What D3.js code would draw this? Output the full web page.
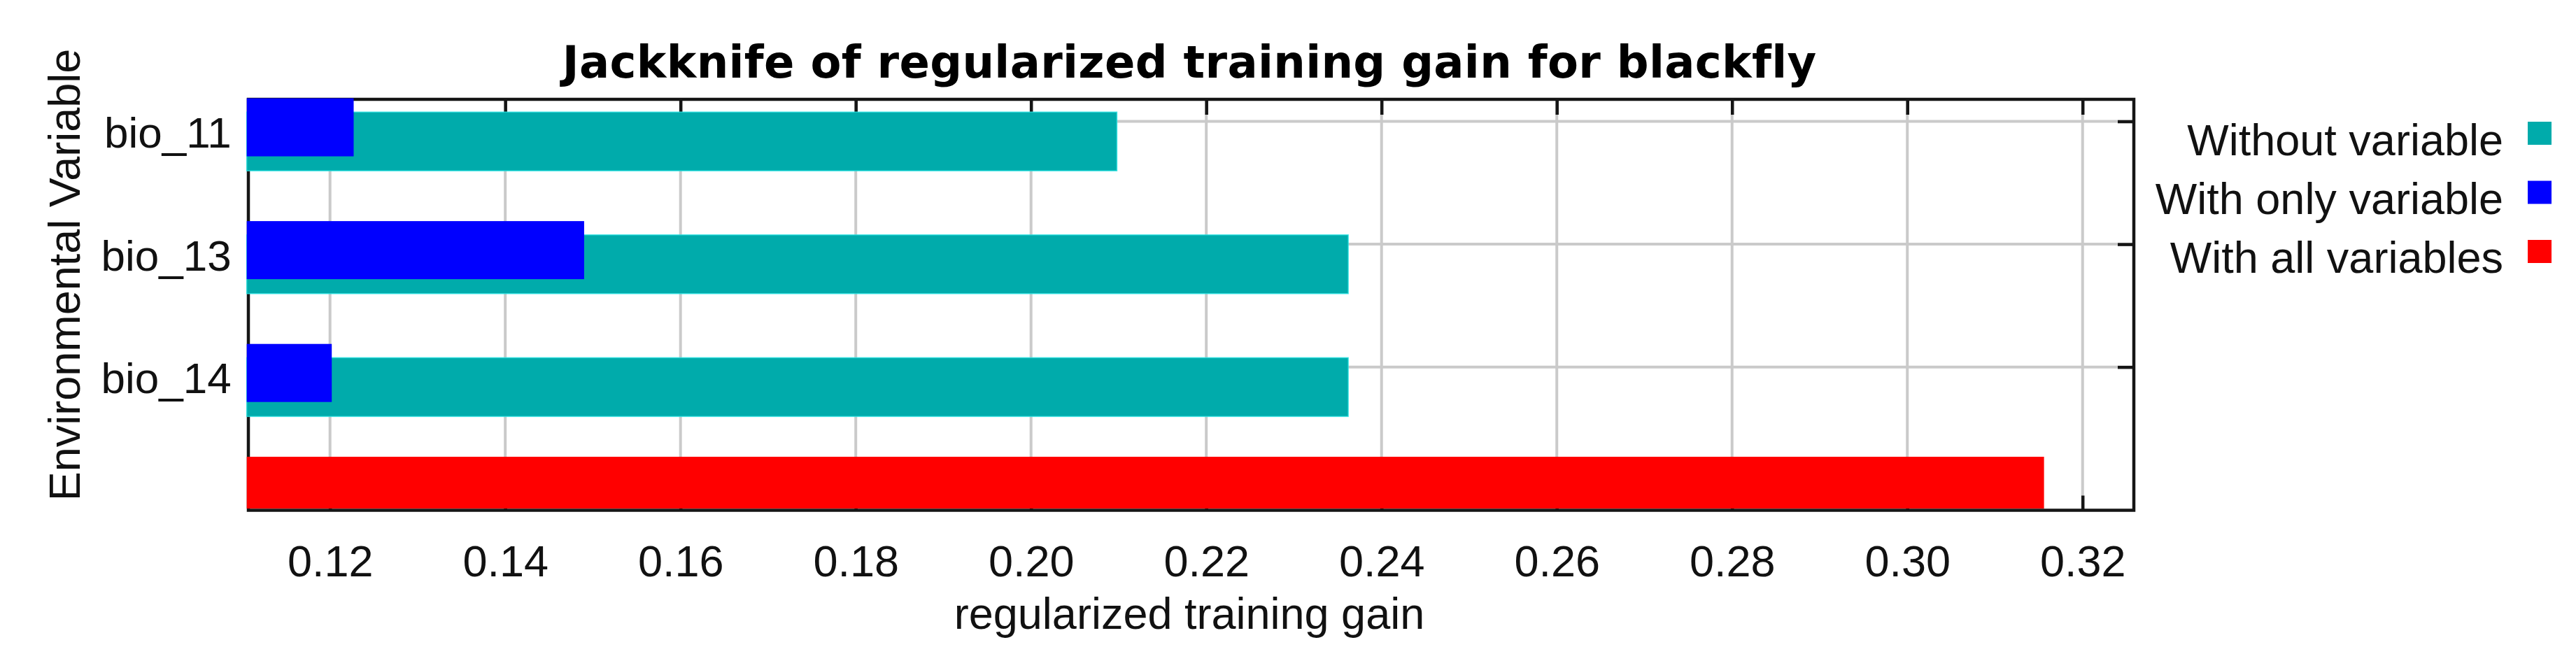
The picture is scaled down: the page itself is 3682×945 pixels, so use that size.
<!DOCTYPE html>
<html><head><meta charset="utf-8">
<script src="https://cdn.jsdelivr.net/npm/d3@7"></script>
<style>
html,body{margin:0;padding:0;background:#fff;}
svg{display:block;font-family:"Liberation Sans",Arial,sans-serif;}
</style></head><body>
<svg id="chart" width="3682" height="945"></svg>
<script>
// ---- data ----
const variables = ["bio_11", "bio_13", "bio_14"];
const withoutVariable = [0.2098, 0.2362, 0.2362];
const withOnlyVariable = [0.1227, 0.1490, 0.1202];
const withAllVariables = 0.3156;
const xTickValues = [0.12, 0.14, 0.16, 0.18, 0.20, 0.22, 0.24, 0.26, 0.28, 0.30, 0.32];
const xDomain = [0.1105, 0.32585];
const legendLabels = ["Without variable", "With only variable", "With all variables"];
const legendColors = ["#00abab", "#0000ff", "#ff0000"];
const titleText = "Jackknife of regularized training gain for blackfly";
const xTitleText = "regularized training gain";
const yTitleText = "Environmental Variable";

// ---- layout ----
const plot = {left: 352.7, right: 3050, top: 142, bottom: 729.5};
const svg = d3.select("#chart");
svg.append("rect").attr("width", 3682).attr("height", 945).attr("fill", "#fff");

const x = d3.scaleLinear().domain(xDomain).range([plot.left, plot.right]);
const rows = [...variables, "all"];
const y = d3.scalePoint().domain(rows).range([173.5, 700.3]);

const gridColor = "#cacaca";
const frameColor = "#151515";

// gridlines
const grid = svg.append("g");
grid.selectAll("line.v").data(xTickValues).join("line")
  .attr("class", "v")
  .attr("x1", d => x(d)).attr("x2", d => x(d))
  .attr("y1", plot.top).attr("y2", plot.bottom)
  .attr("stroke", gridColor).attr("stroke-width", 4);
grid.selectAll("line.h").data(variables).join("line")
  .attr("class", "h")
  .attr("x1", plot.left).attr("x2", plot.right)
  .attr("y1", d => y(d)).attr("y2", d => y(d))
  .attr("stroke", gridColor).attr("stroke-width", 4);

// frame
svg.append("rect")
  .attr("x", 355).attr("y", plot.top)
  .attr("width", plot.right - 355).attr("height", plot.bottom - plot.top)
  .attr("fill", "none").attr("stroke", frameColor).attr("stroke-width", 4.5);

function styleAxis(g) {
  g.select(".domain").remove();
  g.selectAll(".tick line").attr("stroke", frameColor).attr("stroke-width", 4.5);
}

// top ticks (inward)
svg.append("g").attr("transform", `translate(0,${plot.top})`)
  .call(d3.axisTop(x).tickValues(xTickValues).tickSize(-22).tickSizeOuter(0).tickFormat(""))
  .call(styleAxis);

// bottom axis with labels
const bx = svg.append("g").attr("transform", `translate(0,${plot.bottom})`)
  .call(d3.axisBottom(x).tickValues(xTickValues).tickSize(-21).tickSizeOuter(0)
        .tickPadding(50).tickFormat(d3.format(".2f")))
  .call(styleAxis);
bx.selectAll("text").attr("font-size", 63).attr("fill", "#111")
  .attr("font-family", '"Liberation Sans", Arial, sans-serif');

// right ticks
svg.append("g").attr("transform", `translate(${plot.right},0)`)
  .call(d3.axisRight(y).tickValues(variables).tickSize(-23).tickSizeOuter(0).tickFormat(""))
  .call(styleAxis);

// left labels
const ly = svg.append("g").attr("transform", `translate(${plot.left},0)`)
  .call(d3.axisLeft(y).tickValues(variables).tickSize(0).tickPadding(22))
  .call(styleAxis);
ly.selectAll("text").attr("font-size", 62).attr("fill", "#111").attr("dy", "0.6em")
  .attr("font-family", '"Liberation Sans", Arial, sans-serif');

// bars
const bars = svg.append("g");
bars.selectAll("rect.without").data(variables).join("rect")
  .attr("class", "without")
  .attr("x", x(xDomain[0]))
  .attr("y", d => y(d) - 13.3)
  .attr("width", (d, i) => x(withoutVariable[i]) - x(xDomain[0]))
  .attr("height", 84)
  .attr("fill", legendColors[0])
  .attr("stroke", "rgba(40,225,225,0.8)").attr("stroke-width", 1.5);
bars.selectAll("rect.only").data(variables).join("rect")
  .attr("class", "only")
  .attr("x", x(xDomain[0]))
  .attr("y", d => y(d) - 33)
  .attr("width", (d, i) => x(withOnlyVariable[i]) - x(xDomain[0]))
  .attr("height", 83)
  .attr("fill", legendColors[1]);
bars.append("rect")
  .attr("x", x(xDomain[0]))
  .attr("y", y("all") - 47.3)
  .attr("width", x(withAllVariables) - x(xDomain[0]))
  .attr("height", 727 - (y("all") - 47.3))
  .attr("fill", legendColors[2]);

// title (Tahoma-like bold, fitted to the reference width)
const title = svg.append("text")
  .attr("x", 1700).attr("y", 111)
  .attr("text-anchor", "middle")
  .attr("font-family", '"DejaVu Sans", Verdana, sans-serif')
  .attr("font-size", 64).attr("font-weight", "bold").attr("fill", "#000")
  .text(titleText);
let tw = title.node().getComputedTextLength();
if (tw > 1790) {
  title.attr("font-size", 64 * 1790 / tw);
} else {
  const ls = (1790 - tw) / (titleText.length - 1);
  title.attr("letter-spacing", ls).attr("x", 1700 + ls / 2);
}

// axis titles
svg.append("text")
  .attr("x", 1700).attr("y", 899)
  .attr("text-anchor", "middle")
  .attr("font-size", 63).attr("fill", "#111")
  .text(xTitleText);
svg.append("text")
  .attr("transform", "translate(114,393) rotate(-90)")
  .attr("text-anchor", "middle")
  .attr("font-size", 63).attr("fill", "#111")
  .text(yTitleText);

// legend
const lg = svg.append("g");
legendLabels.forEach((lab, i) => {
  lg.append("text")
    .attr("x", 3578).attr("y", 222 + 84 * i)
    .attr("text-anchor", "end")
    .attr("font-size", 63).attr("fill", "#111")
    .text(lab);
  lg.append("rect")
    .attr("x", 3613).attr("y", 174 + 84.5 * i)
    .attr("width", 34).attr("height", 33)
    .attr("fill", legendColors[i]);
});
</script>
</body></html>
